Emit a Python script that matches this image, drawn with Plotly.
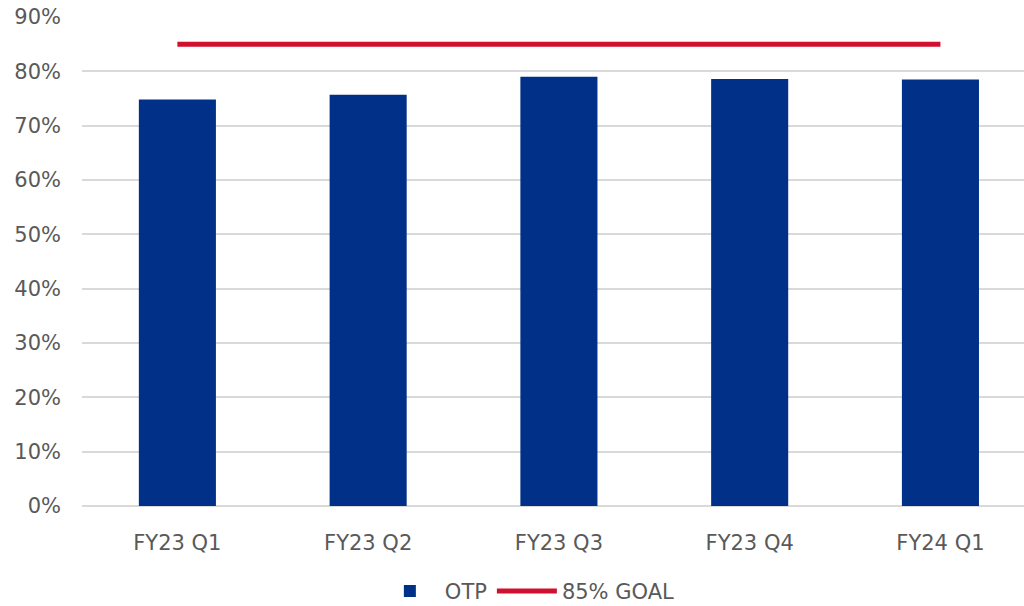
import plotly.graph_objects as go

categories = ["FY23 Q1", "FY23 Q2", "FY23 Q3", "FY23 Q4", "FY24 Q1"]
otp_values = [0.748, 0.757, 0.790, 0.786, 0.785]
goal_values = [0.85, 0.85, 0.85, 0.85, 0.85]
y_ticks = [0, 0.1, 0.2, 0.3, 0.4, 0.5, 0.6, 0.7, 0.8, 0.9]

FONT = "DejaVu Sans"
TXT = "#595959"

fig = go.Figure()
fig.add_trace(go.Bar(
    x=categories, y=otp_values, name="OTP",
    marker=dict(color="#003087", line=dict(width=0)),
))
fig.add_trace(go.Scatter(
    x=categories, y=goal_values, name="85% GOAL", mode="lines",
    line=dict(color="#D0102E", width=5),
))

fig.update_layout(
    width=1024, height=606,
    margin=dict(l=82, r=0, t=17, b=100),
    paper_bgcolor="white", plot_bgcolor="white",
    bargap=0.596,
    font=dict(family=FONT, size=21, color=TXT),
    showlegend=True,
    legend=dict(
        orientation="h", xref="container", yref="container",
        x=0.515, xanchor="center", y=0.024, yanchor="middle",
        font=dict(family=FONT, size=21, color=TXT),
        itemwidth=60, traceorder="normal",
    ),
    xaxis=dict(
        range=[-0.5, 4.438], showgrid=False, zeroline=False,
        showline=False, ticks="", ticklabelstandoff=22,
        tickfont=dict(family=FONT, size=21, color=TXT),
    ),
    yaxis=dict(
        range=[0, 0.9], tickvals=y_ticks, tickformat=".0%",
        showgrid=True, gridcolor="#D9D9D9", gridwidth=1.5,
        zeroline=True, zerolinecolor="#D9D9D9", zerolinewidth=1.5,
        showline=False, ticks="", ticklabelstandoff=20,
        tickfont=dict(family=FONT, size=21, color=TXT),
    ),
)

fig.write_html("out.html")
